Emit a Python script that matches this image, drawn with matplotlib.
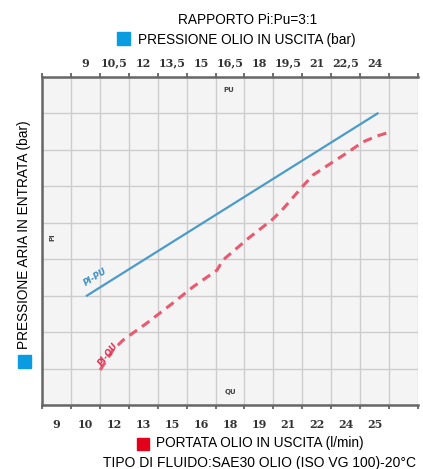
import numpy as np
import matplotlib.pyplot as plt
from matplotlib.patches import Rectangle

# grid cell units: x 0..13, y 0..9
top_labels = ['9', '10,5', '12', '13,5', '15', '16,5', '18', '19,5', '21', '22,5', '24']
bottom_labels = ['9', '10', '12', '13', '15', '16', '18', '19', '21', '22', '24', '25']

# PI-PU line (straight)
pu_x = [1.55, 11.6]
pu_y = [3.0, 8.0]

# PI-QU curve
qu_x = [2.01, 2.46, 2.80, 3.63, 4.53, 5.22, 6.05, 6.26, 7.19, 7.95, 8.30, 8.99, 9.37, 10.06, 10.55, 11.10, 11.58, 12.03]
qu_y = [0.96, 1.51, 1.78, 2.25, 2.80, 3.24, 3.70, 3.98, 4.61, 5.08, 5.35, 5.98, 6.31, 6.67, 6.92, 7.22, 7.38, 7.49]

W, H = 423, 469
fig = plt.figure(figsize=(W / 100, H / 100), dpi=100)
ax = fig.add_axes([42 / W, 1 - 405 / H, (418 - 42) / W, (405 - 77) / H])
ax.set_facecolor('#f4f4f4')
ax.set_xlim(0, 13)
ax.set_ylim(0, 9)

ax.set_xticks(np.arange(0, 14))
ax.set_yticks(np.arange(0, 10))
ax.grid(True, color='#cdcdcd', lw=1.0)
ax.tick_params(which='major', length=3, width=1.2, color='#555555',
               labelbottom=False, labelleft=False, left=False, top=True)
ax.set_xticks(np.arange(len(bottom_labels)) + 0.5, minor=True)
ax.set_xticklabels(bottom_labels, minor=True)
ax.tick_params(which='minor', length=0, labelsize=8, labelcolor='#333333', pad=10)
for t in ax.get_xticklabels(minor=True):
    t.set_family('DejaVu Serif')
    t.set_fontweight('bold')

sec = ax.secondary_xaxis('top')
sec.set_xticks(np.arange(len(top_labels)) + 1.5)
sec.set_xticklabels(top_labels, family='DejaVu Serif', fontweight='bold', fontsize=8, color='#333333')
sec.tick_params(length=0, pad=6)
sec.spines['top'].set_visible(False)

for s in ['top', 'bottom', 'left']:
    ax.spines[s].set_color('#666666')
    ax.spines[s].set_linewidth(1.8)
ax.spines['right'].set_visible(False)

ax.plot(pu_x, pu_y, color='#4b9bc8', lw=1.6)
ax.plot(qu_x, qu_y, color='#e9596f', lw=2.2, dashes=(3, 2))

ax.text(1.85, 3.5, 'PI-PU', color='#3d8fc4', fontsize=6, fontweight='bold', fontstyle='italic',
        rotation=32, ha='center', va='center')
ax.text(2.3, 1.4, 'PI-QU', color='#e0304f', fontsize=6, fontweight='bold', fontstyle='italic',
        rotation=52, ha='center', va='center')
ax.text(6.45, 8.65, 'PU', color='#444444', fontsize=5, fontweight='bold', ha='center', va='center')
ax.text(6.5, 0.35, 'QU', color='#444444', fontsize=5, fontweight='bold', ha='center', va='center')
ax.text(0.35, 4.6, 'PI', color='#444444', fontsize=5, fontweight='bold', rotation=90,
        ha='center', va='center')

font = ['Liberation Sans', 'DejaVu Sans']
fs = 9.8
fig.text(248 / W, 1 - 20 / H, 'RAPPORTO Pi:Pu=3:1', family=font, fontsize=fs, ha='center', va='center')
fig.add_artist(Rectangle((117 / W, 1 - 45 / H), 13 / W, 13 / H, transform=fig.transFigure, color='#0a9be0'))
fig.text(138 / W, 1 - 40 / H, 'PRESSIONE OLIO IN USCITA (bar)', family=font, fontsize=fs, va='center')

fig.add_artist(Rectangle((137 / W, 1 - 450 / H), 12 / W, 12 / H, transform=fig.transFigure, color='#e2001a'))
fig.text(156 / W, 1 - 443 / H, 'PORTATA OLIO IN USCITA (l/min)', family=font, fontsize=fs, va='center')
fig.text(103 / W, 1 - 463 / H, 'TIPO DI FLUIDO:SAE30 OLIO (ISO VG 100)-20°C', family=font, fontsize=10.0, va='center')

fig.text(24 / W, 1 - 235 / H, 'PRESSIONE ARIA IN ENTRATA (bar)', family=font, fontsize=fs,
         rotation=90, ha='center', va='center')
fig.add_artist(Rectangle((18 / W, 1 - 368 / H), 13 / W, 13 / H, transform=fig.transFigure, color='#0a9be0'))

fig.savefig('out.png', dpi=100)
